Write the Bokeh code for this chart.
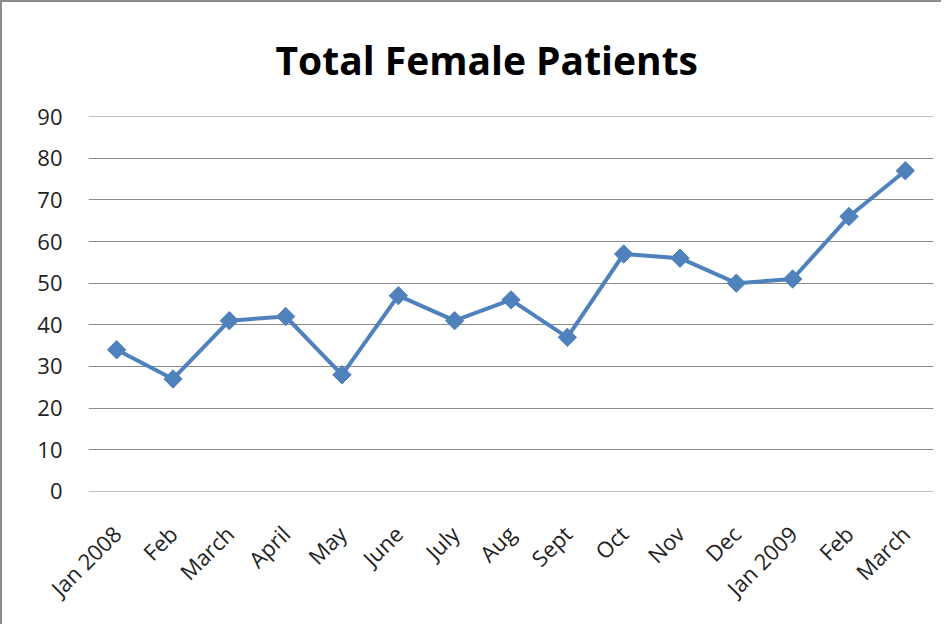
import math
from bokeh.plotting import figure
from bokeh.models import Range1d, FixedTicker
from bokeh.embed import file_html
from bokeh.resources import INLINE

chart_title = "Total Female Patients"
months = ["Jan 2008", "Feb", "March", "April", "May", "June", "July", "Aug",
          "Sept", "Oct", "Nov", "Dec", "Jan 2009", "Feb", "March"]
patients = [34, 27, 41, 42, 28, 47, 41, 46, 37, 57, 56, 50, 51, 66, 77]
y_ticks = [0, 10, 20, 30, 40, 50, 60, 70, 80, 90]

xs = list(range(len(months)))

p = figure(width=941, height=624, output_backend="svg", toolbar_location=None,
           x_range=Range1d(-0.5, len(months) - 0.5), y_range=Range1d(-0.02, 90.02),
           min_border_left=86, min_border_right=10, min_border_top=114,
           min_border_bottom=135)
p.styles = {"border-left": "2px solid #8c8c8c", "border-top": "2px solid #8c8c8c"}

p.title.text = chart_title
p.title.align = "left"
p.title.offset = 187
p.title.vertical_align = "top"
p.title.text_font = "Open Sans"
p.title.text_font_style = "bold"
p.title.text_font_size = "39px"
p.title.text_color = "#000000"
p.title.standoff = 58

p.outline_line_color = None
p.background_fill_color = "#ffffff"
p.border_fill_color = "#ffffff"

p.xgrid.grid_line_color = None
p.ygrid.grid_line_color = "#8a8a8a"
p.ygrid.grid_line_width = 1
p.ygrid.ticker = FixedTicker(ticks=y_ticks)

p.yaxis.ticker = FixedTicker(ticks=y_ticks)
p.yaxis.axis_line_color = None
p.yaxis.major_tick_line_color = None
p.yaxis.minor_tick_line_color = None
p.yaxis.major_label_standoff = 20
p.yaxis.major_label_text_font = "Open Sans"
p.yaxis.major_label_text_font_size = "22px"
p.yaxis.major_label_text_color = "#222222"

p.xaxis.ticker = FixedTicker(ticks=xs)
p.xaxis.major_label_overrides = {i: m for i, m in enumerate(months)}
p.xaxis.axis_line_color = None
p.xaxis.major_tick_line_color = None
p.xaxis.minor_tick_line_color = None
p.xaxis.major_label_orientation = math.pi / 4
p.xaxis.major_label_standoff = 32
p.xaxis.major_label_text_font = "Open Sans"
p.xaxis.major_label_text_font_size = "22px"
p.xaxis.major_label_text_color = "#222222"

p.line(xs, patients, line_color="#4F81BD", line_width=4)
p.scatter(xs, patients, marker="square", angle=math.pi / 4, size=13,
          fill_color="#4F81BD", line_color="#4F81BD")

open("out.html", "w").write(file_html(p, INLINE))
